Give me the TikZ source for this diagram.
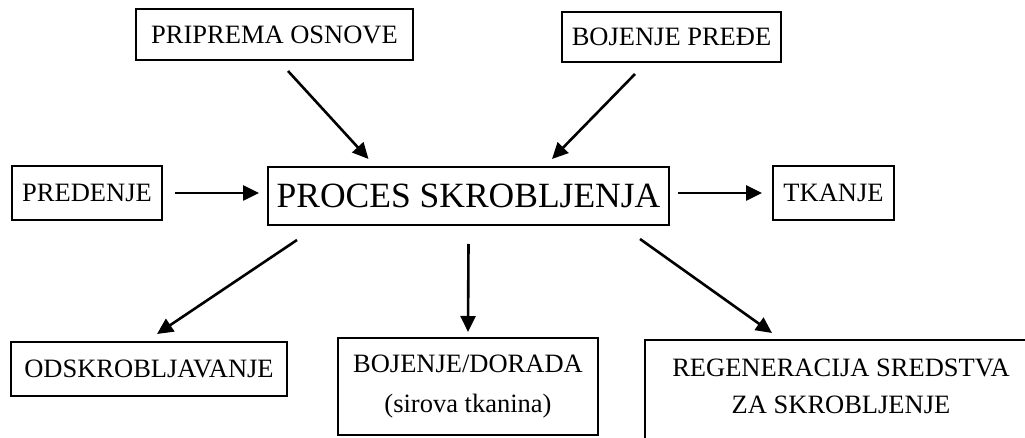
\documentclass[tikz,border=0pt]{standalone}
\usepackage{fontspec}
\setmainfont{Liberation Serif}
\usetikzlibrary{arrows.meta}

\begin{document}
\begin{tikzpicture}[
  x=1pt, y=-1pt,
  every node/.style={inner sep=2pt},
  box/.style={draw, line width=2pt, minimum width=#1},
  lbl/.style={font=\fontsize{26.5}{40}\selectfont},
  big/.style={font=\fontsize{35.5}{42}\selectfont},
  arr/.style={line width=2.6pt, -{Triangle[length=16pt,width=15pt]}},
]
\useasboundingbox (0,0) rectangle (1025,438);
\fill[white] (0,0) rectangle (1025,438);
\clip (0,0) rectangle (1025,438);

% central process
\node[box=401pt, minimum height=58pt, big] (proc) at (468.5,196) {PROCES SKROBLJENJA};

% inputs
\node[box=277pt, minimum height=51pt, lbl] (prip) at (274.5,34.5) {PRIPREMA OSNOVE};
\node[box=219pt, minimum height=50pt, lbl] (prede) at (671.5,37) {BOJENJE PREĐE};
\node[box=150pt, minimum height=54pt, lbl] (pred) at (87,193) {PREDENJE};

% outputs
\node[box=121pt, minimum height=54pt, lbl] (tkan) at (833.5,193) {TKANJE};
\node[box=276pt, minimum height=54pt, lbl] (odsk) at (149,369) {ODSKROBLJAVANJE};
\node[box=260pt, minimum height=97pt, lbl, align=center] (boj) at (468,386.5)
  {BOJENJE/DORADA\\(sirova tkanina)};

% regeneration box runs past the lower and right edges
\node[minimum width=392pt, minimum height=92pt, anchor=north,
      font=\fontsize{26.5}{37}\selectfont, align=center] (regen) at (841,340)
  {REGENERACIJA SREDSTVA\\ZA SKROBLJENJE};
\draw[line width=2pt] ([yshift=-60pt]regen.south west) -- (regen.north west)
  -- (regen.north east) -- ([yshift=-60pt]regen.south east);

% connectors
\draw[arr] ([xshift=12pt]pred.east) -- ([xshift=-8pt]proc.west |- pred.east);
\draw[arr] ([xshift=8pt]proc.east |- tkan.west) -- ([xshift=-10pt]tkan.west);
\draw[arr] ([xshift=13.5pt,yshift=-10pt]prip.south) -- ([xshift=-100pt,yshift=7pt]proc.north);
\draw[arr] ([xshift=-36.5pt,yshift=-11pt]prede.south) -- ([xshift=83.5pt,yshift=7pt]proc.north);
\draw[arr] ([xshift=-171.5pt,yshift=-14pt]proc.south) -- ([xshift=8pt,yshift=7pt]odsk.north);
\draw[arr] ([yshift=-18pt]proc.south) -- ([yshift=5pt]boj.north);
\draw[arr] ([xshift=171.5pt,yshift=-13pt]proc.south) -- ([xshift=-69pt,yshift=7pt]regen.north);
\end{tikzpicture}
\end{document}
